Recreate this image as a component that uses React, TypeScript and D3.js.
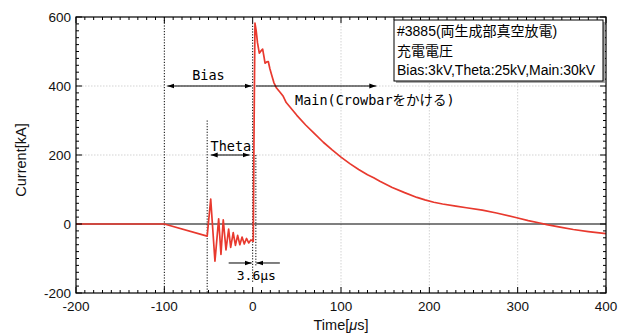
import React from "react";
import * as d3 from "d3";

// ---- data ----
const timeUs = [-200, -100, -51.5, -47.5, -42.7, -38.5, -35.9, -33.3, -30.2, -27.2, -24.9, -22, -19.5, -17, -14.5, -12, -9.5, -7, -4.5, -2, 0.7, 1.5, 2.6, 4, 5.5, 7.5, 9.5, 11.3, 12.8, 14, 16, 17.7, 19.5, 21.5, 24, 27, 31, 34.6, 38, 42, 50, 60, 70, 80, 90, 100, 110, 120, 130, 137, 144, 158, 172, 186, 195, 205, 215, 230, 242, 260, 276, 299, 312, 325, 333, 348, 363, 380, 400];
const currentKA = [0, 0, -35, 72, -108, 15, -88, 12, -75, -15, -68, -25, -62, -33, -60, -38, -58, -42, -55, -46, -50, 250, 582, 560, 525, 495, 502, 507, 485, 466, 470, 471, 450, 432, 410, 394, 382, 370, 352, 340, 315, 287, 262, 237, 215, 194, 175, 158, 143, 134, 124, 106, 91, 77, 70, 63, 58, 52, 47, 40, 32, 18, 10, 3, -2, -9, -16, -22, -28];

const xMajorTicks = [-200, -100, 0, 100, 200, 300, 400];
const yMajorTicks = [-200, 0, 200, 400, 600];
const xGrid = [100, 200, 300];
const yGrid = [200, 400];

const legendLines = ["#3885(両生成部真空放電)", "充電電圧", "Bias:3kV,Theta:25kV,Main:30kV"];

// annotation anchors (data units)
const biasStart = -100;
const thetaStart = -51.5;
const mainStart = 3.6;
const mainArrowEnd = 140;
const arrowLevelBias = 400;
const arrowLevelTheta = 200;
const thetaLineTop = 300;
const arrowLevelDelay = -113;

const W = 627;
const H = 334;
const M = { left: 76, right: 606, top: 17, bottom: 293 };

export default function App() {
  const x = d3.scaleLinear().domain([-200, 400]).range([M.left, M.right]);
  const y = d3.scaleLinear().domain([-200, 600]).range([M.bottom, M.top]);

  const line = d3
    .line<number>()
    .x((_, i) => x(timeUs[i]))
    .y((d) => y(d));

  const xMinor = d3.range(-200, 401, 10);
  const yMinor = d3.range(-200, 601, 20);

  const mono = "'DejaVu Sans Mono', 'Noto Sans CJK JP', monospace";
  const sans = "'Liberation Sans', Arial, 'Noto Sans CJK JP', sans-serif";
  const dot = "1.2,1.6";

  const yb = y(arrowLevelBias);
  const yt = y(arrowLevelTheta);
  const yd = y(arrowLevelDelay);

  return (
    <svg width={W} height={H} style={{ position: "absolute", left: 0, top: 0, background: "#fff" }}>
      <defs>
        <marker id="ah" viewBox="0 0 10 10" refX="10" refY="5" markerWidth="7" markerHeight="7" orient="auto-start-reverse" markerUnits="userSpaceOnUse">
          <path d="M0,1.5 L10,5 L0,8.5 Z" fill="#000" />
        </marker>
      </defs>
      <rect x={0} y={0} width={W} height={H} fill="#fff" />

      {/* grid */}
      {xGrid.map((v) => (
        <line key={"gx" + v} x1={x(v)} x2={x(v)} y1={M.top} y2={M.bottom} stroke="#c8c8c8" strokeWidth={0.8} strokeDasharray="1.5,1.5" />
      ))}
      {yGrid.map((v) => (
        <line key={"gy" + v} x1={M.left} x2={M.right} y1={y(v)} y2={y(v)} stroke="#c8c8c8" strokeWidth={0.8} strokeDasharray="1.5,1.5" />
      ))}

      {/* zero line */}
      <line x1={M.left} x2={M.right} y1={y(0)} y2={y(0)} stroke="#000" strokeWidth={1.2} />

      {/* dotted annotation verticals */}
      <line x1={x(biasStart)} x2={x(biasStart)} y1={M.top} y2={M.bottom} stroke="#000" strokeWidth={1} strokeDasharray={dot} />
      <line x1={x(thetaStart)} x2={x(thetaStart)} y1={y(thetaLineTop)} y2={M.bottom} stroke="#000" strokeWidth={1} strokeDasharray={dot} />
      <line x1={x(0)} x2={x(0)} y1={M.top + 6} y2={282} stroke="#000" strokeWidth={1} strokeDasharray={dot} />
      <line x1={x(mainStart)} x2={x(mainStart)} y1={y(200)} y2={yd + 3} stroke="#000" strokeWidth={1} strokeDasharray={dot} />

      {/* curve */}
      <path d={line(currentKA) || ""} fill="none" stroke="#e8392e" strokeWidth={1.7} strokeLinejoin="round" />

      {/* arrows */}
      <line x1={x(biasStart) + 3} x2={x(0) - 1} y1={yb} y2={yb} stroke="#000" strokeWidth={1} markerStart="url(#ah)" markerEnd="url(#ah)" />
      <line x1={x(mainStart)} x2={x(mainArrowEnd)} y1={yb} y2={yb} stroke="#000" strokeWidth={1} markerEnd="url(#ah)" />
      <line x1={x(thetaStart) + 3.5} x2={x(0) - 3} y1={yt} y2={yt} stroke="#000" strokeWidth={1} markerStart="url(#ah)" markerEnd="url(#ah)" />
      <line x1={x(0) - 24} x2={x(0) - 1} y1={yd} y2={yd} stroke="#000" strokeWidth={1} markerEnd="url(#ah)" />
      <line x1={x(mainStart) + 24} x2={x(mainStart) + 0.5} y1={yd} y2={yd} stroke="#000" strokeWidth={1} markerEnd="url(#ah)" />

      {/* annotation texts */}
      <text x={(x(biasStart) + x(0)) / 2} y={yb - 6} fontFamily={mono} fontSize={13.5} textAnchor="middle">Bias</text>
      <text x={(x(thetaStart) + x(0)) / 2 + 1} y={yt - 4} fontFamily={mono} fontSize={13.5} textAnchor="middle">Theta</text>
      <text x={x(48)} y={yb + 19} fontFamily={mono} fontSize={13.5}>Main(Crowbarをかける)</text>
      <text x={x(mainStart) + 0.5} y={280} fontFamily={mono} fontSize={13} textAnchor="middle">3.6μs</text>

      {/* frame */}
      <rect x={M.left} y={M.top} width={M.right - M.left} height={M.bottom - M.top} fill="none" stroke="#000" strokeWidth={1.2} />

      {/* ticks */}
      {xMinor.map((v) => {
        const major = v % 100 === 0;
        const len = major ? 6 : 3;
        return (
          <g key={"tx" + v}>
            <line x1={x(v)} x2={x(v)} y1={M.bottom} y2={M.bottom - len} stroke="#000" strokeWidth={1} />
            <line x1={x(v)} x2={x(v)} y1={M.top} y2={M.top + len} stroke="#000" strokeWidth={1} />
          </g>
        );
      })}
      {yMinor.map((v) => {
        const major = v % 200 === 0;
        const len = major ? 6 : 3;
        return (
          <g key={"ty" + v}>
            <line x1={M.left} x2={M.left + len} y1={y(v)} y2={y(v)} stroke="#000" strokeWidth={1} />
            <line x1={M.right} x2={M.right - len} y1={y(v)} y2={y(v)} stroke="#000" strokeWidth={1} />
          </g>
        );
      })}

      {/* tick labels */}
      {xMajorTicks.map((v) => (
        <text key={"lx" + v} x={x(v)} y={311} fontFamily={sans} fontSize={13.5} textAnchor="middle" fill="#111">{v}</text>
      ))}
      {yMajorTicks.map((v) => (
        <text key={"ly" + v} x={M.left - 5} y={y(v) + 5} fontFamily={sans} fontSize={13.5} textAnchor="end" fill="#111">{v}</text>
      ))}

      {/* axis titles */}
      <text x={(M.left + M.right) / 2} y={330} fontFamily={sans} fontSize={14.5} textAnchor="middle" fill="#111">
        Time[<tspan fontStyle="italic">μ</tspan>s]
      </text>
      <text transform={`translate(26,160) rotate(-90)`} fontFamily={sans} fontSize={14.5} textAnchor="middle" fill="#111">Current[kA]</text>

      {/* legend box */}
      <rect x={396} y={22} width={209} height={61} fill="#aaa" />
      <rect x={394} y={20} width={209} height={61} fill="#fff" stroke="#000" strokeWidth={1} />
      {legendLines.map((t, i) => (
        <text key={"lg" + i} x={397} y={36 + i * 19.5} fontFamily={sans} fontSize={14} fill="#000">{t}</text>
      ))}
    </svg>
  );
}
